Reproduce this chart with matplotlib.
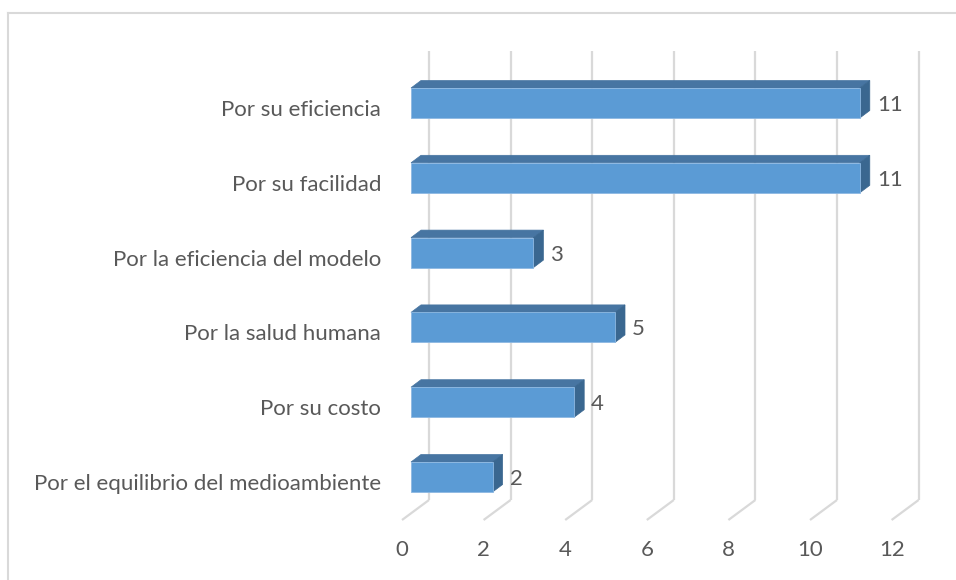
import matplotlib
matplotlib.use("Agg")
import matplotlib.pyplot as plt
from matplotlib.patches import Polygon
from matplotlib.lines import Line2D

categories = [
    "Por el equilibrio del medioambiente",
    "Por su costo",
    "Por la salud humana",
    "Por la eficiencia del modelo",
    "Por su facilidad",
    "Por su eficiencia",
]
values = [2, 4, 5, 3, 11, 11]
x_ticks = [0, 2, 4, 6, 8, 10, 12]

W, H = 956, 580
DPI = 100
PX_PER_UNIT = 40.8      # pixels per value unit
PX_PER_ROW = 74.8       # pixels per category row

front = "#5B9BD5"
top_c = "#4775A2"
side_c = "#3A6790"
grid_c = "#D9D9D9"
text_c = "#595959"

plt.rcParams["font.family"] = ["Lato", "DejaVu Sans"]

fig = plt.figure(figsize=(W / DPI, H / DPI), dpi=DPI)
ax = fig.add_axes([0, 0, 1, 1])
ax.set_axis_off()

# map data units onto the figure: value 0 at x=411px, first row centre 103px above bottom
x0_px, y0_px = 411, 103
ax.set_xlim(-x0_px / PX_PER_UNIT, (W - x0_px) / PX_PER_UNIT)
ax.set_ylim(-y0_px / PX_PER_ROW, (H - y0_px) / PX_PER_ROW)

def ux(px):
    return px / PX_PER_UNIT

def uy(px):
    return px / PX_PER_ROW

# outer chart border
fig.add_artist(Line2D([8 / W, 8 / W], [0, 1 - 13 / H], color=grid_c, lw=1.5,
                      transform=fig.transFigure))
fig.add_artist(Line2D([8 / W, 1], [1 - 13 / H, 1 - 13 / H], color=grid_c, lw=1.5,
                      transform=fig.transFigure))

# back wall gridlines and floor lines (3-D depth offset)
wall_dx, wall_dy = ux(18), uy(13)
floor_dx, floor_dy = ux(27), uy(20)
grid_bottom = uy(80 - y0_px)
grid_top = uy(529 - y0_px)
for t in x_ticks:
    xw = t + wall_dx
    ax.plot([xw, xw], [grid_bottom, grid_top], color=grid_c, lw=1.6,
            solid_capstyle="butt", zorder=1)
    ax.plot([xw, xw - floor_dx], [grid_bottom, grid_bottom - floor_dy],
            color=grid_c, lw=1.6, solid_capstyle="butt", zorder=1)
    ax.text(xw - floor_dx, uy(30 - y0_px), str(t), ha="center", va="center",
            fontsize=16, color=text_c)

# 3-D bars
bar_h = uy(30)
dep_dx, dep_dy = ux(10), uy(7.5)
for i, (cat, v) in enumerate(zip(categories, values)):
    y_lo, y_hi = i - bar_h / 2, i + bar_h / 2
    ax.add_patch(Polygon([(0, y_hi), (v, y_hi), (v + dep_dx, y_hi + dep_dy),
                          (dep_dx, y_hi + dep_dy)], closed=True,
                         facecolor=top_c, edgecolor=top_c, lw=0.5, zorder=3))
    ax.add_patch(Polygon([(v, y_lo), (v + dep_dx, y_lo + dep_dy),
                          (v + dep_dx, y_hi + dep_dy), (v, y_hi)], closed=True,
                         facecolor=side_c, edgecolor=side_c, lw=0.5, zorder=3))
    ax.add_patch(Polygon([(0, y_lo), (v, y_lo), (v, y_hi), (0, y_hi)], closed=True,
                         facecolor=front, edgecolor="#8DB8E2", lw=0.6, zorder=4))
    ax.text(v + ux(17), i - uy(2), str(v), ha="left", va="center",
            fontsize=16, color=text_c, zorder=5)
    ax.text(ux(-30), i - uy(7), cat, ha="right", va="center", fontsize=16,
            color=text_c)

fig.savefig("out.png", dpi=DPI)
